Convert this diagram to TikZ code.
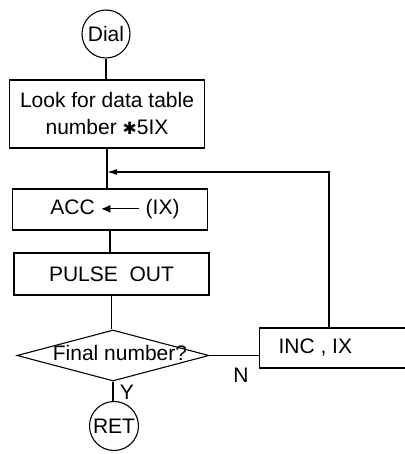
\documentclass[tikz,border=0pt]{standalone}
\usepackage{fontspec}
\setmainfont{Liberation Sans}
\newfontfamily\symfont{DejaVu Sans}
\usetikzlibrary{shapes.geometric,arrows.meta}
\begin{document}
\begin{tikzpicture}[x=1pt,y=1pt,
  font=\fontsize{21}{26}\selectfont,
  ln/.style={line width=1.1pt},
  box/.style={draw,ln,rectangle,inner sep=0pt,minimum width=195pt},
  term/.style={draw,ln,circle,inner sep=0pt,minimum size=48pt},
  dec/.style={draw,ln,diamond,inner sep=0pt,minimum width=192pt,minimum height=51pt},
  lbl/.style={inner sep=0pt}]
\useasboundingbox (0,0) rectangle (404,-454);
\node[term] (dial) at (106,-34) {Dial};
\node[box,minimum height=68pt,align=center,text depth=2pt] (box1) at (107,-114)
  {Look for data table\\[1pt]number {\symfont\fontsize{17}{20}\selectfont ✱}5IX};
\node[box,minimum height=41pt] (acc) at (110,-209.5)
  {\hspace{10pt}ACC \tikz[baseline=-0.55ex]\draw[line width=1.3pt,-{Latex[length=9pt,width=8pt]}] (0,0)--(-38pt,0); (IX)};
\node[box,minimum height=42pt] (pulse) at (111.5,-274)
  {PULSE\ \ OUT\hspace{22pt}};
\node[dec] (dec) at (113,-355.5) {};
\node[lbl] at (120,-353) {Final number?};
\node[term,minimum size=49pt] (ret) at (114,-426) {RET};
\node[box,anchor=west,minimum height=40pt,minimum width=170pt,inner xsep=19pt,align=left] (inc) at (259,-348)
  {INC , IX\hspace{80pt}};
\node[lbl] (n) at (241,-375) {N};
\node[lbl] (y) at (127,-392) {Y};
\coordinate (cr) at (329,-172);
\draw[ln] (dial.south) -- (dial.south |- box1.north);
\draw[ln] (box1.south) -- (box1.south |- acc.north);
\draw[ln] (acc.south) -- (acc.south |- pulse.north);
\draw[ln] (pulse.south) -- (pulse.south |- dec.north);
\draw[ln] (dec.south) -- (dec.south |- ret.north);
\draw[ln] (dec.east) -- (dec.east -| inc.west);
\draw[ln,-{Latex[length=10pt,width=6pt]}] (cr |- inc.north) -- (cr) -- (cr -| box1.south);
\end{tikzpicture}
\end{document}
